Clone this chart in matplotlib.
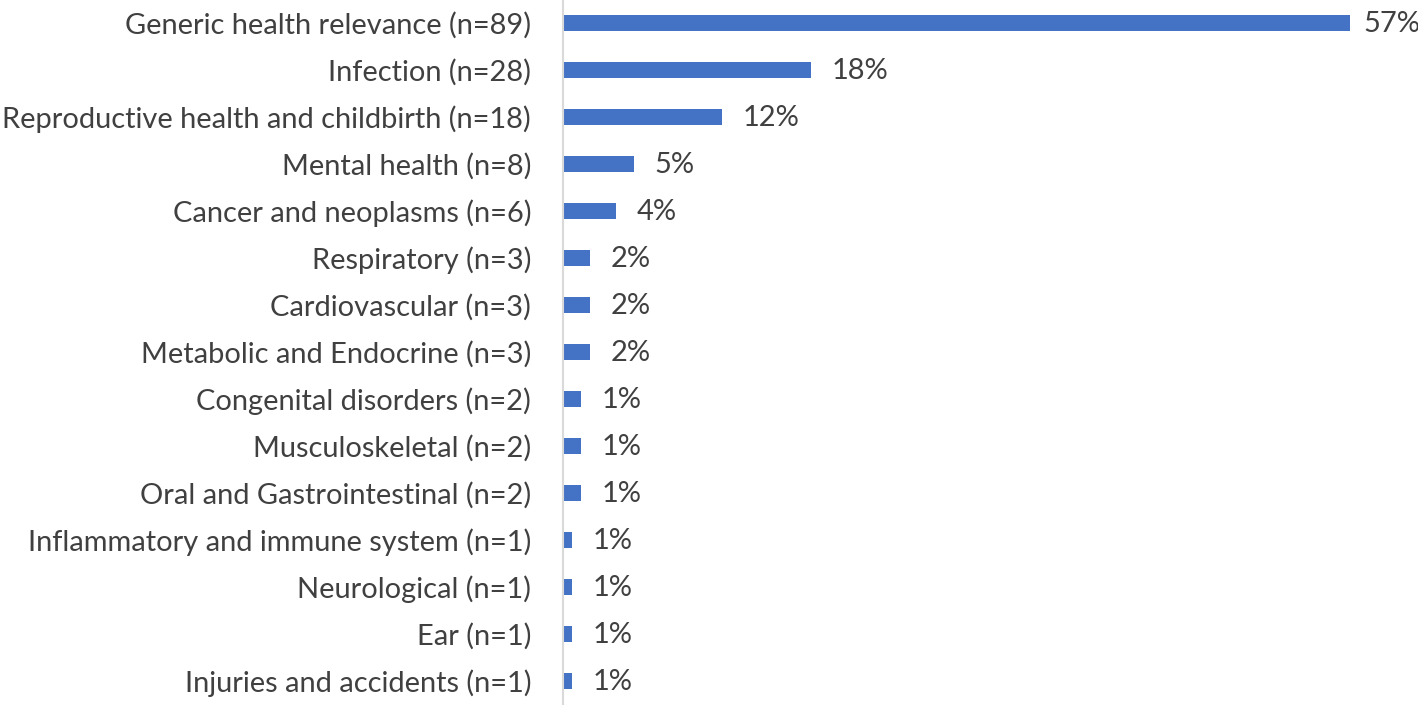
import matplotlib
matplotlib.use("Agg")
import matplotlib.pyplot as plt

categories = [
    "Generic health relevance (n=89)",
    "Infection (n=28)",
    "Reproductive health and childbirth (n=18)",
    "Mental health (n=8)",
    "Cancer and neoplasms (n=6)",
    "Respiratory (n=3)",
    "Cardiovascular (n=3)",
    "Metabolic and Endocrine (n=3)",
    "Congenital disorders (n=2)",
    "Musculoskeletal (n=2)",
    "Oral and Gastrointestinal (n=2)",
    "Inflammatory and immune system (n=1)",
    "Neurological (n=1)",
    "Ear (n=1)",
    "Injuries and accidents (n=1)",
]
counts = [89, 28, 18, 8, 6, 3, 3, 3, 2, 2, 2, 1, 1, 1, 1]
pct_labels = ["57%", "18%", "12%", "5%", "4%", "2%", "2%", "2%",
              "1%", "1%", "1%", "1%", "1%", "1%", "1%"]

W, H = 1418, 705
fig = plt.figure(figsize=(W / 100, H / 100), dpi=100)
ax = fig.add_axes([563 / W, 0, (W - 563) / W, 1])

font = "Lato"
text_color = "#404040"
bar_color = "#4472C4"
fs = 20.9

y = list(range(len(categories)))
ax.barh(y, counts, height=0.35, color=bar_color, zorder=2)

ax.set_xlim(0, (W - 563) / 8.84)
ax.set_ylim(14.51, -0.489)

ax.set_yticks(y)
ax.set_yticklabels(categories, fontsize=fs, color=text_color, family=font)
ax.tick_params(axis="y", length=0, pad=23)
ax.set_xticks([])

for s in ["top", "right", "bottom"]:
    ax.spines[s].set_visible(False)
ax.spines["left"].set_color("#d9d9d9")
ax.spines["left"].set_linewidth(1.5)

for i, (c, lab) in enumerate(zip(counts, pct_labels)):
    off = 10 if c == max(counts) else 15
    ax.annotate(lab, xy=(c, i), xytext=(off, -1), textcoords="offset points",
                va="center", ha="left", fontsize=fs, color=text_color,
                family=font, annotation_clip=False)

fig.savefig("out.png", dpi=100)
